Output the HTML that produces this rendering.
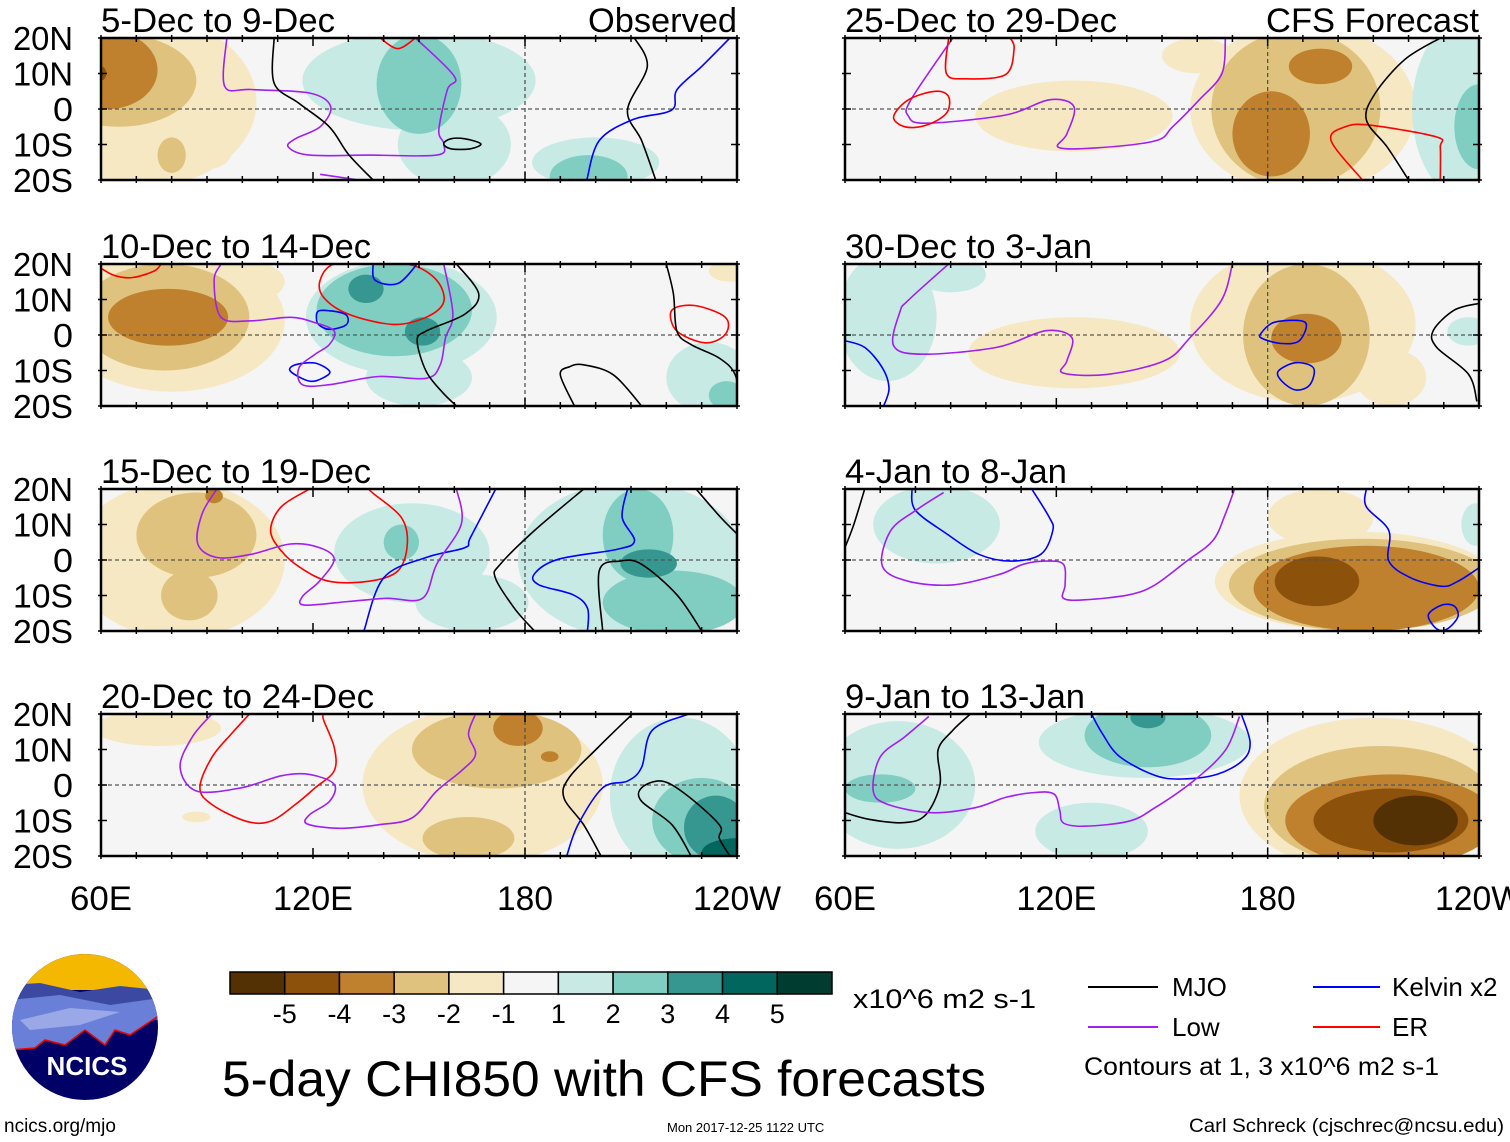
<!DOCTYPE html>
<html><head><meta charset="utf-8">
<style>
html,body{margin:0;padding:0;background:#fff;}
body{width:1510px;height:1142px;position:relative;overflow:hidden;font-family:"Liberation Sans",Arial,sans-serif;}
svg text{font-family:"Liberation Sans",Arial,sans-serif;}
</style></head>
<body>
<svg id="chart" width="1510" height="1142" viewBox="0 0 1510 1142" xmlns="http://www.w3.org/2000/svg" style="position:absolute;left:0;top:0">
<g id="panels"></g>
<g id="legend"></g>
</svg>
<script>
// ---- data ----
const levelColors = ["#543005","#8c510a","#bf812d","#dfc27d","#f6e8c3","#f5f5f5","#c7eae5","#80cdc1","#35978f","#01665e","#003c30"];
const levelTicks = ["-5","-4","-3","-2","-1","1","2","3","4","5"];
const latTicks = ["20N","10N","0","10S","20S"];
const latVals = [20,10,0,-10,-20];
const lonTicks = ["60E","120E","180","120W"];
const lonVals = [60,120,180,240];
const panelTitles = ["5-Dec to 9-Dec","25-Dec to 29-Dec","10-Dec to 14-Dec","30-Dec to 3-Jan","15-Dec to 19-Dec","4-Jan to 8-Jan","20-Dec to 24-Dec","9-Jan to 13-Jan"];
// blobs: [lon, lat, rxDeg, ryDeg, level]
const blobs0 = [[72,2,32,24,-1],[90,-12,7,5,-1],[65,8,22,13,-2],[80,-13,4,5,-2],[62,11,14,11,-3],[60,10,1.5,2,-4],[150,8,33,14,1],[160,-10,16,12,1],[200,-15,18,7,1],[150,7,12,14,2],[198,-19,11,6,2]];
const blobs1 = [[125,-2,28,10,-1],[160,15,10,5,-1],[190,0,32,24,-1],[188,0,24,22,-2],[195,12,9,5,-3],[181,-7,11,12,-3],[236,0,15,25,1],[240,-5,7,12,2]];
const blobs2 = [[80,4,32,20,-1],[100,15,12,6,-1],[238,18,6,3,-1],[78,5,24,15,-2],[79,5,17,8,-3],[145,5,27,16,1],[150,-12,15,8,1],[232,-12,12,10,1],[143,7,22,13,2],[237,-17,5,4,2],[135,13,5,4,3],[151,1,5,4,3]];
const blobs3 = [[190,3,32,22,-1],[215,-12,10,8,-1],[125,-5,30,10,-1],[191,0,18,20,-2],[191,-1,10,7,-3],[72,5,14,18,1],[90,17,10,5,1],[237,1,6,4,1]];
const blobs4 = [[82,0,30,22,-1],[87,7,17,12,-2],[85,-10,8,7,-2],[92,18,2.5,2,-3],[148,2,22,14,1],[165,-12,16,8,1],[210,0,32,22,1],[145,5,5,5,2],[212,7,10,13,2],[222,-12,20,9,2],[215,-1,8,4,3]];
const blobs5 = [[205,-6,40,14,-1],[195,12,15,8,-1],[207,-7,38,13,-2],[208,-8,32,12,-3],[194,-6,12,7,-4],[86,10,18,11,1],[239,10,4,6,1]];
const blobs6 = [[168,0,34,22,-1],[76,16,18,5,-1],[87,-9,4,1.5,-1],[172,10,24,11,-2],[164,-15,13,6,-2],[178,16,7,5,-3],[187,8,2.5,1.5,-3],[224,-3,20,22,1],[230,-10,14,12,2],[234,-12,9,9,3],[240,-19,10,4,4]];
const blobs7 = [[210,-3,38,22,-1],[212,-6,33,17,-2],[215,-10,30,13,-3],[215,-10,22,9,-4],[222,-10,12,7,-5],[75,0,22,18,1],[145,12,30,10,1],[130,-13,16,8,1],[146,14,18,9,2],[70,-1,10,4,2],[146,19,5,3,3]];
const panelBlobs = [blobs0,blobs1,blobs2,blobs3,blobs4,blobs5,blobs6,blobs7];
// contours: [type, [[lon,lat],...]]
const lines0 = [
 ["low",[[95.6,20],[95,6.4],[102.5,5.5],[119,4.5],[125,0.7],[122,-5],[115,-8.4],[113,-10.7],[119,-13],[135.7,-13],[155,-13],[157,-9.8],[155.6,-6],[158,5.4],[160,9.2],[149,20]]],
 ["low",[[122,-18.4],[133,-20]]],
 ["mjo",[[109,20],[109,7.3],[116,1.6],[124.6,-5],[130,-12.7],[137,-20]]],
 ["mjo",[[157,-9.8],[159,-8.4],[163,-8.4],[167.5,-9.8],[164.6,-11.2],[159,-11.2],[157,-9.8]]],
 ["mjo",[[211,20],[214.6,12],[209,-0.3],[213,-8.9],[217,-20]]],
 ["kelvin",[[238,20],[230,12],[223,5.4],[221.5,-0.3],[210.5,-3],[201,-8.9],[197.5,-20]]],
 ["er",[[139,20],[144,17],[149,20]]]];
const lines1 = [
 ["low",[[90.6,20],[78.7,2.6],[78,-2],[83,-4],[105.6,-1.7],[118,2.6],[125,0.7],[123,-7],[120.6,-10.8],[130.6,-11],[148,-9],[153,-5],[160.6,2.6],[167,10],[168,20]]],
 ["er",[[89.4,20],[88.8,10],[94.4,8.5],[105.6,9.7],[108,17],[106.9,20]]],
 ["er",[[73.8,-2.2],[78,2.6],[85.6,5],[89.4,3.5],[88.8,-1.2],[83,-4.6],[77,-5],[73.8,-2.2]]],
 ["er",[[206.9,-20],[198,-8.9],[202,-5],[209.4,-4.6],[228,-7.9],[229,-10.8],[229,-20]]],
 ["mjo",[[229,20],[219,14],[210.6,4.5],[208,-3],[214,-10.8],[220,-20]]]];
const lines2 = [
 ["er",[[60,18.8],[64,16.7],[69,16.2],[75,18],[77,20]]],
 ["er",[[122,15.4],[123,10.6],[130,5.9],[142.6,3],[152,5],[157,9.3],[155,15.4],[148,19.7],[137,20],[126,20],[122,15.4]]],
 ["er",[[221.5,6.9],[228,8.3],[236.7,5],[236.7,0.2],[231,-2.2],[223,1.1],[221.5,6.9]]],
 ["kelvin",[[137,20],[137.6,15.4],[144,14.5],[149.5,20]]],
 ["kelvin",[[122,6.9],[129,5.9],[129.5,3],[125,1.6],[122,2.6],[121,4.5],[122,6.9]]],
 ["kelvin",[[113.6,-10.2],[115,-8.4],[120.5,-7.9],[124.7,-10.2],[123,-12],[119,-13],[113.6,-10.2]]],
 ["low",[[94,20],[92,15.4],[94,5],[102.5,4],[113.6,5],[120.5,3.5],[126,1.1],[124.6,-2.7],[120.5,-5.5],[116,-9.3],[117,-14],[124.6,-14],[138.5,-11.7],[152,-12.2],[156,-8.4],[157.5,-0.8],[159.6,5.9],[157,20]]],
 ["mjo",[[160.6,20],[166.9,11.6],[163,5.9],[152,1.1],[149.5,-1.7],[152,-10.2],[156.5,-16],[160.6,-20]]],
 ["mjo",[[220,20],[222,11.6],[223,1.1],[227,-2.7],[235,-6.5],[239.5,-11.2],[241,-20]]],
 ["mjo",[[194,-20],[190,-11.2],[192.7,-8.9],[196.6,-8.4],[205,-11.2],[213,-20]]]];
const lines3 = [
 ["kelvin",[[60,-1.6],[65.6,-3.5],[70.6,-9.2],[72.5,-15],[71,-20]]],
 ["kelvin",[[178,0.3],[182,3.6],[190.6,3.6],[189,-1.6],[184,-2.4],[178.7,-1.1],[178,0.3]]],
 ["kelvin",[[183,-10.2],[188,-7.8],[193,-9.3],[192,-14],[188,-15.5],[184,-13],[183,-10.2]]],
 ["low",[[89.4,20],[78,9.8],[75.6,6.5],[73.8,-3],[81.9,-5.4],[103,-3.5],[117,1.2],[124.4,-0.7],[123,-7.3],[121.9,-10.7],[134.4,-11.1],[150.6,-7.3],[158,-0.7],[166.9,9.8],[170,20]]],
 ["mjo",[[240,8.9],[233,7],[227,1.2],[228,-3.5],[237,-11],[239.4,-18.7]]]];
const lines4 = [
 ["er",[[119,20],[111,15],[108,8.3],[111,2.6],[116.5,-2.2],[124.6,-6],[135.7,-6],[144,-3.1],[146.7,4.5],[145,12],[137,18.8],[135.7,20]]],
 ["kelvin",[[134.4,-20],[140,-5],[152,0.7],[163,3.5],[164.6,6.4],[171.7,20]]],
 ["kelvin",[[209,20],[207.5,12],[211,5.4],[206,3],[189.4,0.2],[182.6,-4],[184,-7],[193.6,-9.8],[197.7,-13.6],[197.7,-20]]],
 ["low",[[92.8,20],[88.6,13],[87.4,4.5],[92.8,0.7],[102.5,1.6],[113.6,4.5],[121.8,3.5],[126,0.2],[121.8,-6],[117,-10.3],[117.6,-12.7],[130,-11.7],[141,-10.8],[151,-10.8],[155,-1.2],[162,10.2],[160.6,20]]],
 ["mjo",[[196.6,20],[182.7,8.3],[173,-1.2],[171.6,-5],[177,-13.6],[182.7,-20]]],
 ["mjo",[[228.4,20],[235.4,12],[241,6.4]]],
 ["mjo",[[202,-20],[201,-3.1],[207,-0.3],[213,-1.2],[223,-9.8],[230,-20]]]];
const lines5 = [
 ["mjo",[[65.6,20],[62.5,10],[60,3.5]]],
 ["kelvin",[[79,20],[80,14],[89,7.3],[98,1.6],[107,-0.3],[115.6,1.6],[119,8.3],[118,12],[113,20]]],
 ["kelvin",[[208,20],[208,15],[214.4,8.3],[214.4,-0.3],[220.6,-5],[229.4,-7.4],[234,-6],[240,-2.2]]],
 ["kelvin",[[225.6,-15.5],[229.4,-12.7],[233,-13],[234,-16],[231,-19.4],[228,-19.4],[225.6,-15.5]]],
 ["low",[[88,19],[80.6,14.3],[73,8.3],[70.6,-1.7],[78,-6],[90.6,-7],[104,-4],[110.6,-1.2],[117,-0.3],[122,-1.2],[122.5,-7],[122,-10.8],[128,-11.2],[140.6,-9.8],[148,-7],[157,-0.3],[164.4,5.4],[168,13],[170.6,20]]]];
const lines6 = [
 ["er",[[102,20],[97,14.5],[91.4,7.8],[88,-0.8],[91.4,-5.5],[101,-10.2],[108,-10.2],[115,-5.5],[120.6,-0.8],[126,4],[126,10.6],[123,18.3],[123,20]]],
 ["low",[[91.4,20],[85.8,13.5],[82.4,5],[87,-1.7],[99.7,-0.8],[111,2.6],[119,3],[126,0.2],[124.7,-4.6],[119,-8.4],[118.4,-11],[127.5,-12.2],[138.5,-11.2],[148,-9.3],[155,-1.7],[162,4],[166,8.6],[164,14.3],[166,20]]],
 ["mjo",[[210.4,20],[200.8,10.7],[192.5,2.1],[191,-3.6],[196.6,-11.2],[201.5,-20]]],
 ["mjo",[[238,-20],[235,-15],[235,-11.2],[225.6,-2.7],[218.7,1.1],[213,-0.8],[213,-4.6],[221.6,-11.2],[227,-20]]],
 ["kelvin",[[226.4,20],[216,15.4],[213,5],[209,1.1],[202,-0.8],[195,-11.2],[191.8,-20]]]];
const lines7 = [
 ["mjo",[[60,-7.8],[67,-9.7],[77,-10.6],[83,-8.3],[87,0.3],[86.4,9.8],[90.6,15.4],[95.6,20]]],
 ["kelvin",[[130,20],[133,14.6],[138,8],[148,2.7],[155.6,1.7],[165.6,3],[173,7],[175,12],[172.5,20]]],
 ["low",[[83.8,19.3],[77,13.6],[70,7.9],[68,-1.6],[72,-5.4],[84.4,-7.8],[97,-6.4],[105.6,-3.5],[114,-2.1],[119.4,-2.6],[121,-7.3],[122,-10.7],[128,-11.6],[140.6,-10.2],[148,-6.4],[159,1.2],[168,9.8],[172,19.3]]]];
const panelLines = [lines0,lines1,lines2,lines3,lines4,lines5,lines6,lines7];
const lineColors = {mjo:"#000000",low:"#a020f0",kelvin:"#0000ff",er:"#ff0000"};

// ---- layout ----
const NS="http://www.w3.org/2000/svg";
const colX=[101,845], colW=[636,634], rowY=[38,264,489,714], PH=142;
function mk(tag,attrs,parent){const e=document.createElementNS(NS,tag);for(const k in attrs)e.setAttribute(k,attrs[k]);parent.appendChild(e);return e;}
function smoothPath(pts){
  const closed = pts.length>2 && pts[0][0]===pts[pts.length-1][0] && pts[0][1]===pts[pts.length-1][1];
  let P = closed ? pts.slice(0,-1) : pts.slice();
  const n=P.length;
  const get=i=> closed ? P[(i+n)%n] : P[Math.max(0,Math.min(n-1,i))];
  let d='M'+P[0][0].toFixed(1)+','+P[0][1].toFixed(1);
  const segs = closed ? n : n-1;
  for(let i=0;i<segs;i++){
    const p0=get(i-1),p1=get(i),p2=get(i+1),p3=get(i+2);
    const c1=[p1[0]+(p2[0]-p0[0])/6,p1[1]+(p2[1]-p0[1])/6];
    const c2=[p2[0]-(p3[0]-p1[0])/6,p2[1]-(p3[1]-p1[1])/6];
    d+=' C'+c1[0].toFixed(1)+','+c1[1].toFixed(1)+' '+c2[0].toFixed(1)+','+c2[1].toFixed(1)+' '+p2[0].toFixed(1)+','+p2[1].toFixed(1);
  }
  if(closed) d+='Z';
  return d;
}
const titleW=[234,272,270,247,270,222,273,240];
const panelsG=document.getElementById('panels');
for(let p=0;p<8;p++){
  const col=p%2,row=Math.floor(p/2);
  const x0=colX[col],y0=rowY[row],W=colW[col];
  const xs=lon=>x0+(lon-60)/180*W;
  const ys=lat=>y0+(20-lat)/40*PH;
  const g=mk('g',{},panelsG);
  
  
  const cp=mk('clipPath',{id:'cp'+p},g);
  mk('rect',{x:x0,y:y0,width:W,height:PH},cp);
  mk('rect',{x:x0,y:y0,width:W,height:PH,fill:levelColors[5]},g);
  const inner=mk('g',{'clip-path':'url(#cp'+p+')'},g);
  panelBlobs[p].forEach(b=>{
    const idx=5+b[4];
    const e=mk('ellipse',{cx:xs(b[0]),cy:ys(b[1]),rx:b[2]/180*W,ry:b[3]/40*PH,fill:levelColors[idx]},inner);
    
    
  });
  mk('line',{x1:x0,x2:x0+W,y1:ys(0),y2:ys(0),stroke:'#555','stroke-width':1.3,'stroke-dasharray':'4,3'},inner);
  mk('line',{x1:xs(180),x2:xs(180),y1:y0,y2:y0+PH,stroke:'#555','stroke-width':1.3,'stroke-dasharray':'4,3'},inner);
  panelLines[p].forEach(l=>{
    const pts=l[1].map(pt=>[xs(pt[0]),ys(pt[1])]);
    const pa=mk('path',{d:smoothPath(pts),fill:'none',stroke:lineColors[l[0]],'stroke-width':1.6},inner);
    
    
  });
  mk('rect',{x:x0,y:y0,width:W,height:PH,fill:'none',stroke:'#000','stroke-width':2.5},g);
  for(let lon=60;lon<=240;lon+=10){
    const len=(lon%60===0)?8:4;
    mk('line',{x1:xs(lon),x2:xs(lon),y1:y0-3,y2:y0+len,stroke:'#000','stroke-width':1.5},g);
    mk('line',{x1:xs(lon),x2:xs(lon),y1:y0+PH+3,y2:y0+PH-len,stroke:'#000','stroke-width':1.5},g);
  }
  latVals.forEach(lat=>{
    mk('line',{x1:x0-3,x2:x0+6,y1:ys(lat),y2:ys(lat),stroke:'#000','stroke-width':1.5},g);
    mk('line',{x1:x0+W+3,x2:x0+W-6,y1:ys(lat),y2:ys(lat),stroke:'#000','stroke-width':1.5},g);
  });
  const t=mk('text',{x:x0,y:y0-6,'font-size':34,textLength:titleW[p],lengthAdjust:'spacingAndGlyphs'},g);
  t.textContent=panelTitles[p];
  
  
  if(p===0){const o=mk('text',{x:x0+W-149,y:y0-6,'font-size':34,textLength:149,lengthAdjust:'spacingAndGlyphs'},g);o.textContent='Observed';}
  if(p===1){const o=mk('text',{x:x0+W-213,y:y0-6,'font-size':34,textLength:213,lengthAdjust:'spacingAndGlyphs'},g);o.textContent='CFS Forecast';}
  if(col===0){
    latVals.forEach((lat,i)=>{
      const w = latTicks[i]==='0'?20:60;
      const lt=mk('text',{x:73-w,y:ys(lat)+12,'font-size':33,textLength:w,lengthAdjust:'spacingAndGlyphs'},g);
      lt.textContent=latTicks[i];
      
      
    });
  }
  if(row===3){
    lonVals.forEach((lon,i)=>{
      const w=[62,80,56,88][i];
      const lt=mk('text',{x:xs(lon)-w/2,y:910,'font-size':34,textLength:w,lengthAdjust:'spacingAndGlyphs'},g);
      lt.textContent=lonTicks[i];
      
      
    });
  }
}
const lg=document.getElementById('legend');
const bw=(832-230)/11;
levelColors.forEach((c,i)=>{
  const r=mk('rect',{x:230+i*bw,y:972,width:bw,height:22,fill:c,stroke:'#000','stroke-width':1.5},lg);
  
  
});
levelTicks.forEach((t,i)=>{
  const tx=mk('text',{x:230+(i+1)*bw,y:1023,'font-size':27,'text-anchor':'middle'},lg);
  tx.textContent=t;
  
  
});
</script>
<svg style="position:absolute;left:0;top:0" width="1510" height="1142">
  <text x="853" y="1008" font-size="27" textLength="183" lengthAdjust="spacingAndGlyphs">x10^6 m2 s-1</text>
  <text x="222" y="1096" font-size="50" textLength="764" lengthAdjust="spacingAndGlyphs">5-day CHI850 with CFS forecasts</text>
  <g>
    <line x1="1088" x2="1158" y1="987" y2="987" stroke="#000" stroke-width="2"/>
    <text x="1172" y="996" font-size="26">MJO</text>
    <line x1="1088" x2="1158" y1="1027" y2="1027" stroke="#a020f0" stroke-width="2"/>
    <text x="1172" y="1036" font-size="26">Low</text>
    <line x1="1313" x2="1380" y1="987" y2="987" stroke="#0000ff" stroke-width="2"/>
    <text x="1392" y="996" font-size="26">Kelvin x2</text>
    <line x1="1313" x2="1380" y1="1027" y2="1027" stroke="#ff0000" stroke-width="2"/>
    <text x="1392" y="1036" font-size="26">ER</text>
    <text x="1084" y="1075" font-size="25" textLength="355" lengthAdjust="spacingAndGlyphs">Contours at 1, 3 x10^6 m2 s-1</text>
  </g>
  <g>
    <defs><clipPath id="logoclip"><circle cx="85" cy="1027" r="73"/></clipPath></defs>
    <g clip-path="url(#logoclip)">
      <rect x="10" y="950" width="150" height="160" fill="#000066"/>
      <rect x="10" y="950" width="150" height="40" fill="#f5b800"/>
      <path d="M10,985 L40,983 L80,992 L120,986 L160,990 L160,1020 L10,1030 Z" fill="#3b4aa0"/>
      <path d="M10,1000 L60,995 L110,1005 L160,998 L160,1015 L130,1035 L115,1030 L105,1045 L85,1030 L65,1045 L45,1040 L35,1048 L10,1050 Z" fill="#6a7fd8"/>
      <path d="M20,1020 L70,1008 L120,1012 L80,1025 L30,1030 Z" fill="#9aa8e8"/>
      <path d="M10,1050 L35,1048 L45,1040 L65,1045 L85,1030 L105,1045 L115,1030 L130,1035 L160,1015" fill="none" stroke="#e00" stroke-width="1.5"/>
    </g>
    <text x="87" y="1075" font-size="26" font-weight="bold" fill="#fff" text-anchor="middle">NCICS</text>
  </g>
  <text x="4" y="1132" font-size="19">ncics.org/mjo</text>
  <text x="667" y="1132" font-size="13">Mon 2017-12-25 1122 UTC</text>
  <text x="1189" y="1132" font-size="19" textLength="315" lengthAdjust="spacingAndGlyphs">Carl Schreck (cjschrec@ncsu.edu)</text>
</svg>
</body></html>
